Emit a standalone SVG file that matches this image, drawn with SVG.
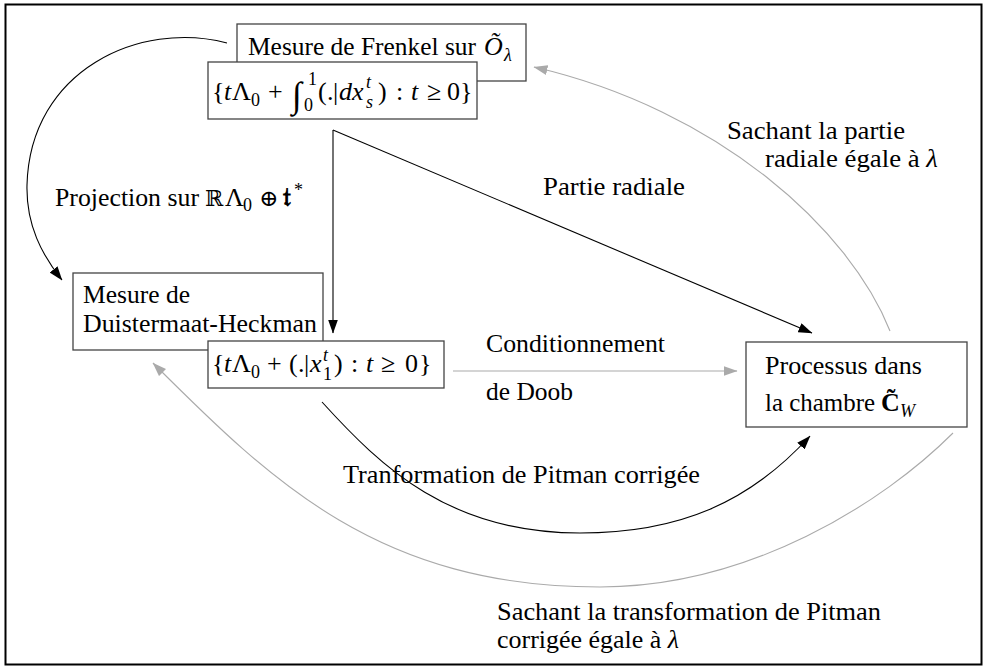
<svg xmlns="http://www.w3.org/2000/svg" width="985" height="666" viewBox="0 0 985 666">
<style>
text{font-family:"Liberation Serif","DejaVu Serif",serif;font-size:26px;fill:#000}
.i{font-style:italic}
.s{font-size:18px}
.b{font-weight:bold}
.box{fill:#fff;stroke:#444;stroke-width:1.3}
.k{fill:none;stroke:#000;stroke-width:1.1}
.g{fill:none;stroke:#aaa;stroke-width:1.1}
</style>
<defs>
<marker id="ak" viewBox="0 0 14 10" refX="13.5" refY="5" markerWidth="14" markerHeight="10" markerUnits="userSpaceOnUse" orient="auto"><path d="M0,0 L14,5 L0,10 z" fill="#000"/></marker>
<marker id="ag" viewBox="0 0 14 10" refX="13.5" refY="5" markerWidth="14" markerHeight="10" markerUnits="userSpaceOnUse" orient="auto"><path d="M0,0 L14,5 L0,10 z" fill="#aaa"/></marker>
</defs>
<rect x="5.5" y="4.5" width="976" height="660" fill="#fff" stroke="#000" stroke-width="2"/>

<g id="connectors">
<path class="k" d="M 227 43 C 140 20, 30 70, 27 185 C 26 225, 42 255, 62 280" marker-end="url(#ak)"/>
<path class="k" d="M 333 130 L 333 333" marker-end="url(#ak)"/>
<path class="k" d="M 333 130 L 812 333" marker-end="url(#ak)"/>
<path class="g" d="M 890 331 C 850 230, 720 110, 534 67" marker-end="url(#ag)"/>
<path class="g" d="M 453 371 L 737 371" marker-end="url(#ag)"/>
<path class="k" d="M 322 402 C 382 468, 450 533, 580 533 C 680 533, 750 502, 810 436" marker-end="url(#ak)"/>
<path class="g" d="M 953 433 C 883 503, 750 587, 600 587 C 380 587, 273 483, 153 363" marker-end="url(#ag)"/>
</g>

<g id="labels">
<text x="55" y="206" textLength="144" lengthAdjust="spacingAndGlyphs">Projection sur</text>
<text y="206"><tspan x="205" font-size="22">ℝ</tspan><tspan x="225" font-size="26">Λ</tspan><tspan x="243" y="211" class="s">0</tspan><tspan x="259" y="206" font-size="23">⊕</tspan><tspan x="283" class="b">𝔱</tspan><tspan x="294" y="196" class="s">*</tspan></text>
<text x="543" y="195" textLength="142" lengthAdjust="spacingAndGlyphs">Partie radiale</text>
<text x="727" y="139" textLength="178" lengthAdjust="spacingAndGlyphs">Sachant la partie</text>
<text x="765" y="167" textLength="173" lengthAdjust="spacingAndGlyphs">radiale égale à <tspan class="i">λ</tspan></text>
<text x="486" y="352" textLength="179" lengthAdjust="spacingAndGlyphs">Conditionnement</text>
<text x="486" y="400" textLength="87" lengthAdjust="spacingAndGlyphs">de Doob</text>
<text x="343" y="483" textLength="357" lengthAdjust="spacingAndGlyphs">Tranformation de Pitman corrigée</text>
<text x="497" y="620" textLength="384" lengthAdjust="spacingAndGlyphs">Sachant la transformation de Pitman</text>
<text x="497" y="648" textLength="182" lengthAdjust="spacingAndGlyphs">corrigée égale à <tspan class="i">λ</tspan></text>
</g>

<g id="frenkel">
<rect class="box" x="237" y="24" width="289" height="57"/>
<text x="248" y="55" textLength="228" lengthAdjust="spacingAndGlyphs">Mesure de Frenkel sur</text>
<text y="55"><tspan x="484" class="i">Õ</tspan><tspan x="504" y="61" class="s i">λ</tspan></text>
</g>

<g id="frenkel-set">
<rect class="box" x="208" y="62" width="269" height="57"/>
<text y="100"><tspan x="212">{</tspan><tspan x="224" class="i">t</tspan><tspan x="232">Λ</tspan><tspan x="251" y="106" class="s">0</tspan><tspan x="268" y="100">+</tspan><tspan x="292" y="107" font-size="36" class="i">∫</tspan><tspan x="308" y="85" class="s">1</tspan><tspan x="304" y="111" class="s">0</tspan><tspan x="318" y="100">(</tspan><tspan x="327">.</tspan><tspan x="333">|</tspan><tspan x="339" class="i">d</tspan><tspan x="352" class="i">x</tspan><tspan x="366" y="88" class="s i">t</tspan><tspan x="366" y="108" class="s i">s</tspan><tspan x="378" y="100">)</tspan><tspan x="396">:</tspan><tspan x="411" class="i">t</tspan><tspan x="427">≥</tspan><tspan x="447">0</tspan><tspan x="460">}</tspan></text>
</g>

<g id="duistermaat-heckman">
<rect class="box" x="73" y="273" width="250" height="77"/>
<text x="83" y="303" textLength="107" lengthAdjust="spacingAndGlyphs">Mesure de</text>
<text x="83" y="332" textLength="234" lengthAdjust="spacingAndGlyphs">Duistermaat-Heckman</text>
</g>

<g id="dh-set">
<rect class="box" x="208" y="341" width="236" height="47"/>
<text y="372"><tspan x="212">{</tspan><tspan x="224" class="i">t</tspan><tspan x="232">Λ</tspan><tspan x="251" y="378" class="s">0</tspan><tspan x="267" y="372">+</tspan><tspan x="289">(</tspan><tspan x="298">.</tspan><tspan x="304">|</tspan><tspan x="310" class="i">x</tspan><tspan x="323" y="361" class="s i">t</tspan><tspan x="323" y="380" class="s">1</tspan><tspan x="334" y="372">)</tspan><tspan x="351">:</tspan><tspan x="366" class="i">t</tspan><tspan x="381">≥</tspan><tspan x="405">0</tspan><tspan x="419">}</tspan></text>
</g>

<g id="processus">
<rect class="box" x="746" y="342" width="221" height="85"/>
<text x="765" y="374" textLength="157" lengthAdjust="spacingAndGlyphs">Processus dans</text>
<text x="765" y="411" textLength="110" lengthAdjust="spacingAndGlyphs">la chambre</text>
<text y="411"><tspan x="881" class="b">C̃</tspan><tspan x="900" y="417" class="s i">W</tspan></text>
</g>
</svg>
